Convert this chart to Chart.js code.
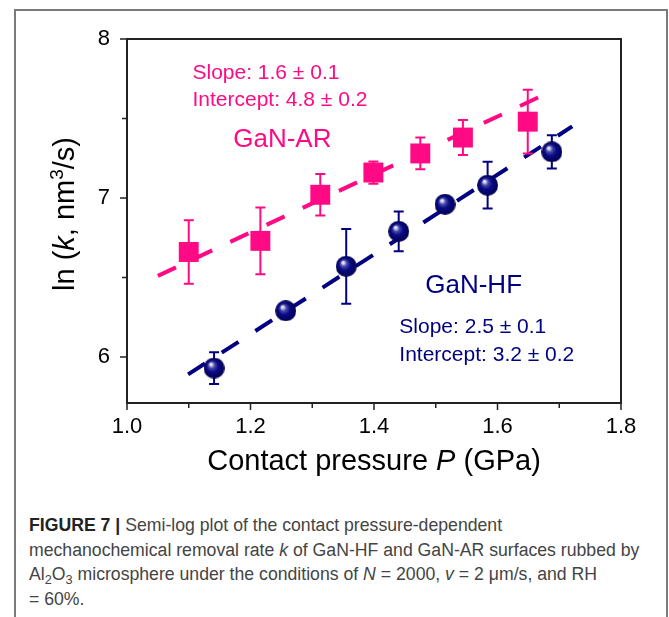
<!DOCTYPE html>
<html>
<head>
<meta charset="utf-8">
<script src="https://cdn.jsdelivr.net/npm/chart.js@4.4.0/dist/chart.umd.min.js"></script>
<style>
  html, body { margin: 0; padding: 0; background: #fff; }
  body { width: 669px; height: 617px; position: relative; overflow: hidden; }
  .frame {
    position: absolute; left: 14px; top: 9px; width: 654px; height: 700px;
    box-sizing: border-box; border: 2px solid #7a7a7a;
  }
  #chart { position: absolute; left: 0; top: 0; width: 669px; height: 490px; }
  .caption {
    position: absolute; left: 29px; top: 513px; white-space: nowrap;
    font-family: "Liberation Sans", Arial, sans-serif; font-size: 17px; line-height: 24.5px;
    color: #444;
  }
  .caption b { color: #222; }
  .caption sub { font-size: 0.72em; line-height: 0; vertical-align: -0.28em; }
</style>
</head>
<body>
<div class="frame"></div>
<canvas id="chart" width="669" height="490"></canvas>
<div class="caption" id="caption"><b>FIGURE 7 |</b> Semi-log plot of the contact pressure-dependent<br><span id="cap2">mechanochemical removal rate <i>k</i> of GaN-HF and GaN-AR surfaces rubbed by</span><br>Al<sub>2</sub>O<sub>3</sub> microsphere under the conditions of <i>N</i> = 2000, <i>v</i> = 2 μm/s, and RH<br>= 60%.</div>
<script>
// GaN-AR (squares)
const pressureAR = [1.100, 1.216, 1.313, 1.399, 1.475, 1.544, 1.649];
const lnkAR = [6.66, 6.73, 7.02, 7.16, 7.28, 7.38, 7.48];
const errAR = [0.20, 0.21, 0.13, 0.07, 0.10, 0.11, 0.20];

// GaN-HF (spheres)
const pressureHF = [1.141, 1.257, 1.355, 1.440, 1.515, 1.584, 1.688];
const lnkHF = [5.93, 6.29, 6.57, 6.79, 6.96, 7.08, 7.29];
const errHF = [0.10, 0.03, 0.235, 0.125, 0.03, 0.147, 0.105];

// dashed fit lines, end points
const fitXAR = [1.05, 1.67];
const fitYAR = [6.51, 7.64];
const fitXHF = [1.099, 1.721];
const fitYHF = [5.89, 7.45];

// axes
const xTicks = [1.0, 1.1, 1.2, 1.3, 1.4, 1.5, 1.6, 1.7, 1.8];
const xTickLabels = ['1.0', '', '1.2', '', '1.4', '', '1.6', '', '1.8'];
const yTicks = [6, 6.5, 7, 7.5, 8];
const yTickLabels = ['6', '', '7', '', '8'];

const PINK = '#ff0a84';
const NAVY = '#000080';
const FONT = '"Liberation Sans", Arial, sans-serif';

// text in the plot, placed in data units
const notes = [
    { text: 'Slope: 1.6 \u00b1 0.1', x: 1.106, y: 7.748, color: PINK, size: 21 },
    { text: 'Intercept: 4.8 \u00b1 0.2', x: 1.106, y: 7.580, color: PINK, size: 21 },
    { text: 'GaN-AR', x: 1.172, y: 7.318, color: PINK, size: 26 },
    { text: 'GaN-HF', x: 1.483, y: 6.403, color: NAVY, size: 26 },
    { text: 'Slope: 2.5 \u00b1 0.1', x: 1.441, y: 6.151, color: NAVY, size: 21 },
    { text: 'Intercept: 3.2 \u00b1 0.2', x: 1.441, y: 5.972, color: NAVY, size: 21 }
];

function toPoints(xs, ys) {
    return xs.map((v, i) => ({ x: v, y: ys[i] }));
}

// shaded ball used as marker
function makeSphere(d) {
    const c = document.createElement('canvas');
    c.width = d; c.height = d;
    const g = c.getContext('2d');
    const r = d / 2;
    const grad = g.createRadialGradient(r - d * 0.17, r - d * 0.2, 0, r, r, r);
    grad.addColorStop(0, '#ffffff');
    grad.addColorStop(0.12, '#d6d6f0');
    grad.addColorStop(0.3, '#4a4aa8');
    grad.addColorStop(0.55, '#0b0b88');
    grad.addColorStop(1, '#00004e');
    g.fillStyle = grad;
    g.beginPath();
    g.arc(r, r, r, 0, Math.PI * 2);
    g.fill();
    return c;
}

function drawRuns(ctx, runs, x, y, align) {
    let total = 0;
    runs.forEach(r => { ctx.font = r.font; r.w = ctx.measureText(r.t).width; total += r.w; });
    let cx = align === 'center' ? x - total / 2 : x;
    ctx.textAlign = 'left';
    ctx.textBaseline = 'alphabetic';
    runs.forEach(r => {
        ctx.font = r.font;
        ctx.fillText(r.t, cx, y + (r.dy || 0));
        cx += r.w;
    });
}

// error bars, drawn just under each dataset's markers
const errorBars = {
    id: 'errorBars',
    beforeDatasetDraw(chart, args) {
        const ds = chart.data.datasets[args.index];
        if (!ds.errors) return;
        const { ctx, scales: { y } } = chart;
        ctx.save();
        ctx.strokeStyle = ds.errorColor;
        ctx.lineWidth = 2;
        ctx.beginPath();
        args.meta.data.forEach((el, i) => {
            const top = y.getPixelForValue(ds.data[i].y + ds.errors[i]);
            const bot = y.getPixelForValue(ds.data[i].y - ds.errors[i]);
            ctx.moveTo(el.x, top); ctx.lineTo(el.x, bot);
            ctx.moveTo(el.x - 5, top); ctx.lineTo(el.x + 5, top);
            ctx.moveTo(el.x - 5, bot); ctx.lineTo(el.x + 5, bot);
        });
        ctx.stroke();
        ctx.restore();
    }
};

// box, tick marks, titles and notes
const decorations = {
    id: 'decorations',
    afterDraw(chart) {
        const { ctx, chartArea: a, scales: { x, y } } = chart;
        ctx.save();
        ctx.strokeStyle = '#222';
        ctx.lineWidth = 2;
        ctx.strokeRect(a.left, a.top, a.right - a.left, a.bottom - a.top);

        ctx.lineWidth = 1.5;
        ctx.beginPath();
        xTicks.forEach((v, i) => {
            const px = x.getPixelForValue(v);
            const len = xTickLabels[i] ? 7 : 5;
            ctx.moveTo(px, a.bottom); ctx.lineTo(px, a.bottom + len);
        });
        yTicks.forEach((v, i) => {
            const py = y.getPixelForValue(v);
            const len = yTickLabels[i] ? 7 : 5;
            ctx.moveTo(a.left, py); ctx.lineTo(a.left - len, py);
        });
        ctx.stroke();

        ctx.fillStyle = '#000';
        const f = '29px ' + FONT;
        const fi = 'italic 29px ' + FONT;
        drawRuns(ctx, [
            { t: 'Contact pressure ', font: f },
            { t: 'P', font: fi },
            { t: ' (GPa)', font: f }
        ], (a.left + a.right) / 2, a.bottom + 67, 'center');

        ctx.translate(a.left - 53, (a.top + a.bottom) / 2 - 7);
        ctx.rotate(-Math.PI / 2);
        drawRuns(ctx, [
            { t: 'ln (', font: f },
            { t: 'k', font: fi },
            { t: ', nm', font: f },
            { t: '3', font: '19px ' + FONT, dy: -11 },
            { t: '/s)', font: f }
        ], 0, 0, 'center');
        ctx.setTransform(1, 0, 0, 1, 0, 0);

        notes.forEach(n => {
            ctx.fillStyle = n.color;
            drawRuns(ctx, [{ t: n.text, font: n.size + 'px ' + FONT }],
                x.getPixelForValue(n.x), y.getPixelForValue(n.y), 'left');
        });
        ctx.restore();
    }
};

const sphere = makeSphere(21);

new Chart(document.getElementById('chart'), {
    type: 'scatter',
    data: {
        datasets: [
            {
                data: toPoints(fitXAR, fitYAR), showLine: true, borderColor: PINK,
                borderWidth: 4, borderDash: [20, 20], pointRadius: 0, order: 3
            },
            {
                data: toPoints(fitXHF, fitYHF), showLine: true, borderColor: NAVY,
                borderWidth: 4, borderDash: [20, 20], pointRadius: 0, order: 3
            },
            {
                label: 'GaN-AR', data: toPoints(pressureAR, lnkAR), errors: errAR, errorColor: PINK,
                pointStyle: 'rect', pointRadius: 14.1, backgroundColor: PINK, borderWidth: 0, order: 1
            },
            {
                label: 'GaN-HF', data: toPoints(pressureHF, lnkHF), errors: errHF, errorColor: NAVY,
                pointStyle: sphere, pointRadius: 11, borderWidth: 0, order: 2
            }
        ]
    },
    options: {
        responsive: false,
        animation: false,
        events: [],
        layout: { padding: { left: 0, top: 39, right: 48, bottom: 0 } },
        plugins: { legend: { display: false }, tooltip: { enabled: false } },
        scales: {
            x: {
                type: 'linear', min: 1.0, max: 1.8,
                grid: { display: false, drawTicks: false },
                border: { display: false },
                afterBuildTicks: s => { s.ticks = xTicks.map(v => ({ value: v })); },
                afterFit: s => { s.height = 87; },
                ticks: {
                    autoSkip: false, maxRotation: 0, padding: 11, color: '#000',
                    font: { family: FONT, size: 22 },
                    callback: (v, i) => xTickLabels[i]
                }
            },
            y: {
                type: 'linear', min: 5.71, max: 8,
                grid: { display: false, drawTicks: false },
                border: { display: false },
                afterBuildTicks: s => { s.ticks = yTicks.map(v => ({ value: v })); },
                afterFit: s => { s.width = 127; },
                ticks: {
                    autoSkip: false, padding: 17, color: '#000',
                    font: { family: FONT, size: 22 },
                    callback: (v, i) => yTickLabels[i]
                }
            }
        }
    },
    plugins: [errorBars, decorations]
});

// caption line 2 spans 29..640 in the figure
const cap = document.getElementById('caption');
const w2 = document.getElementById('cap2').getBoundingClientRect().width;
cap.style.fontSize = (17 * 611 / w2).toFixed(2) + 'px';
</script>
</body>
</html>
